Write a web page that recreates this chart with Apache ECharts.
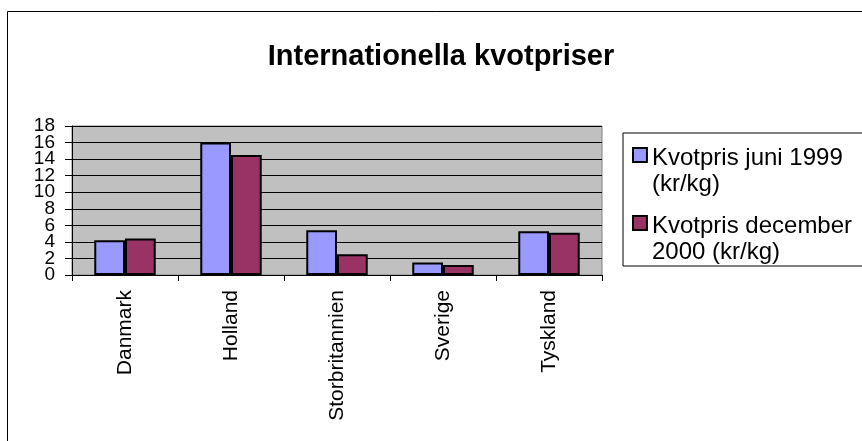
<!DOCTYPE html>
<html>
<head>
<meta charset="utf-8">
<script src="https://cdn.jsdelivr.net/npm/echarts@6/dist/echarts.min.js"></script>
<style>
  html, body { margin: 0; padding: 0; background: #fff; }
  #chart { width: 862px; height: 441px; }
</style>
</head>
<body>
<div id="chart"></div>
<script>
const countries = ['Danmark', 'Holland', 'Storbritannien', 'Sverige', 'Tyskland']
const seriesNames = ['Kvotpris juni 1999\n(kr/kg)', 'Kvotpris december\n2000 (kr/kg)']
const juni1999 = [4.2, 16.0, 5.4, 1.5, 5.3]
const december2000 = [4.4, 14.5, 2.5, 1.2, 5.1]
const yTickLabels = ['0', '2', '4', '6', '8', '10', '12', '14', '16', '18']
const yTicks = { min: 0, max: 18, interval: 2 }

const FONT = 'Liberation Sans, Arial, sans-serif'

const chart = echarts.init(document.getElementById('chart'))

const barStyle = color => ({ color: color, borderColor: '#000', borderWidth: 2 })

const option = {
  backgroundColor: '#fff',
  animation: false,
  title: {
    text: 'Internationella kvotpriser',
    left: 436,
    top: 37,
    textAlign: 'center',
    textStyle: { fontFamily: FONT, fontSize: 29, fontWeight: 'bold', color: '#000' }
  },
  graphic: [{
    type: 'rect',
    shape: { x: 7.5, y: 11.5, width: 900, height: 500 },
    style: { fill: 'none', stroke: '#000', lineWidth: 1 },
    silent: true
  }],
  legend: {
    orient: 'vertical',
    left: 623,
    top: 133,
    padding: [12, 30, 1, 9],
    itemGap: 16,
    itemWidth: 14,
    itemHeight: 46,
    // square sits at the top of a tall icon so it lines up with the first text line
    icon: 'path://M0,0H10V10H0Z M0,33',
    borderColor: '#000',
    borderWidth: 1,
    backgroundColor: '#fff',
    itemStyle: { borderColor: '#000', borderWidth: 2 },
    textStyle: { fontFamily: FONT, fontSize: 24, color: '#000', lineHeight: 26 }
  },
  grid: {
    left: 72,
    top: 126,
    width: 530,
    height: 149,
    show: true,
    backgroundColor: '#C0C0C0',
    borderColor: '#808080',
    borderWidth: 1
  },
  xAxis: {
    type: 'category',
    data: countries,
    axisLine: { lineStyle: { color: '#000', width: 1 } },
    axisTick: { show: true, length: 6, lineStyle: { color: '#000' } },
    axisLabel: {
      rotate: 90,
      margin: 15,
      color: '#000',
      fontFamily: FONT,
      fontSize: 21
    }
  },
  yAxis: [
    {
      // value scale for the bars, only the gridlines are drawn from it
      type: 'value',
      min: yTicks.min,
      max: yTicks.max,
      interval: yTicks.interval,
      axisLine: { show: false },
      axisTick: { show: false },
      axisLabel: { show: false },
      splitLine: { lineStyle: { color: '#000', width: 1 } }
    },
    {
      // tick labels are packed tighter than their font height; a category axis keeps them all
      type: 'category',
      position: 'left',
      data: yTickLabels,
      boundaryGap: false,
      axisLine: { show: true, lineStyle: { color: '#000', width: 1 } },
      axisTick: { show: true, length: 7, lineStyle: { color: '#000' } },
      splitLine: { show: false },
      axisLabel: {
        interval: 0,
        margin: 17,
        color: '#000',
        fontFamily: FONT,
        fontSize: 19
      }
    }
  ],
  series: [
    {
      name: seriesNames[0],
      type: 'bar',
      data: juni1999,
      barGap: '0%',
      barCategoryGap: '42%',
      itemStyle: barStyle('#9999FF')
    },
    {
      name: seriesNames[1],
      type: 'bar',
      data: december2000,
      itemStyle: barStyle('#993366')
    }
  ]
}

chart.setOption(option)
window.addEventListener('resize', () => chart.resize())
</script>
</body>
</html>
